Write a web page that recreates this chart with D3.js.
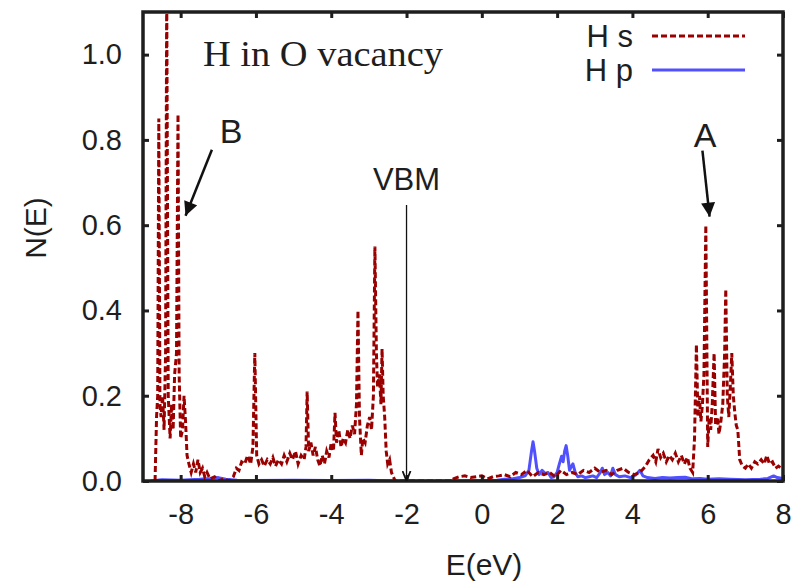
<!DOCTYPE html>
<html><head><meta charset="utf-8">
<script src="https://cdn.jsdelivr.net/npm/d3@7"></script>
<style>body{margin:0;background:#fff}svg{display:block}</style>
</head><body>
<script>
// ---- data ----
const hsE = [-8.68,-8.64,-8.61,-8.58,-8.55,-8.52,-8.48,-8.44,-8.40,-8.37,-8.33,-8.28,-8.24,-8.20,-8.16,-8.11,-8.07,-8.04,-8.00,-7.95,-7.91,-7.87,-7.83,-7.78,-7.72,-7.66,-7.60,-7.54,-7.48,-7.42,-7.36,-7.30,-7.22,-7.10,-7.00,-6.85,-6.70,-6.60,-6.52,-6.45,-6.38,-6.30,-6.22,-6.14,-6.08,-6.03,-5.98,-5.92,-5.85,-5.78,-5.70,-5.62,-5.55,-5.48,-5.40,-5.32,-5.25,-5.18,-5.10,-5.03,-4.95,-4.88,-4.80,-4.72,-4.67,-4.64,-4.60,-4.54,-4.48,-4.42,-4.36,-4.30,-4.24,-4.18,-4.12,-4.06,-4.00,-3.94,-3.90,-3.86,-3.80,-3.74,-3.68,-3.62,-3.56,-3.50,-3.44,-3.38,-3.33,-3.29,-3.25,-3.20,-3.16,-3.10,-3.04,-2.98,-2.93,-2.88,-2.84,-2.80,-2.77,-2.72,-2.68,-2.65,-2.62,-2.58,-2.54,-2.50,-2.45,-2.40,-2.35,-2.30,-0.80,-0.75,-0.60,-0.45,-0.30,-0.15,0.00,0.15,0.30,0.45,0.60,0.75,0.90,1.05,1.20,1.35,1.50,1.65,1.80,1.95,2.10,2.25,2.40,2.55,2.70,2.85,3.00,3.15,3.30,3.45,3.60,3.75,3.90,4.05,4.20,4.35,4.45,4.55,4.62,4.68,4.75,4.82,4.90,4.98,5.06,5.14,5.22,5.30,5.38,5.46,5.53,5.60,5.65,5.70,5.74,5.78,5.82,5.86,5.90,5.95,6.00,6.04,6.08,6.12,6.17,6.21,6.26,6.30,6.35,6.40,6.45,6.48,6.52,6.56,6.60,6.64,6.68,6.72,6.76,6.80,6.85,6.92,7.00,7.08,7.16,7.25,7.33,7.42,7.50,7.57,7.64,7.72,7.80,7.88,7.95,8.00];
const hsN = [0.00,0.15,0.20,0.85,0.18,0.15,0.20,0.12,0.30,1.15,0.20,0.10,0.18,0.12,0.25,0.30,0.86,0.25,0.10,0.12,0.20,0.14,0.06,0.04,0.02,0.04,0.02,0.05,0.02,0.03,0.01,0.02,0.005,0.01,0.00,0.005,0.00,0.01,0.03,0.025,0.045,0.04,0.06,0.04,0.08,0.30,0.06,0.04,0.05,0.035,0.05,0.04,0.055,0.035,0.05,0.04,0.06,0.045,0.065,0.05,0.07,0.04,0.06,0.05,0.08,0.21,0.07,0.09,0.06,0.08,0.05,0.035,0.06,0.04,0.07,0.055,0.09,0.07,0.16,0.09,0.12,0.08,0.10,0.09,0.12,0.10,0.13,0.11,0.18,0.40,0.15,0.06,0.10,0.09,0.13,0.15,0.12,0.20,0.55,0.30,0.22,0.25,0.18,0.31,0.20,0.15,0.07,0.04,0.05,0.02,0.01,0.00,0.00,0.005,0.01,0.012,0.008,0.01,0.012,0.005,0.01,0.012,0.015,0.01,0.02,0.015,0.025,0.01,0.02,0.015,0.02,0.01,0.025,0.015,0.02,0.015,0.025,0.02,0.03,0.02,0.025,0.015,0.025,0.03,0.02,0.015,0.02,0.035,0.05,0.06,0.045,0.075,0.055,0.065,0.045,0.06,0.05,0.065,0.045,0.06,0.04,0.055,0.03,0.02,0.10,0.32,0.15,0.20,0.14,0.18,0.25,0.60,0.08,0.15,0.12,0.18,0.30,0.13,0.15,0.11,0.14,0.18,0.30,0.45,0.20,0.15,0.22,0.30,0.20,0.16,0.13,0.12,0.05,0.035,0.03,0.04,0.03,0.045,0.04,0.05,0.04,0.06,0.04,0.045,0.03,0.035,0.03,0.03];
const hpE = [-8.80,-8.50,-8.00,-7.50,-7.20,-7.00,-6.80,-6.50,-6.00,-5.00,-4.00,-3.00,-2.30,-0.80,0.40,0.60,0.80,1.00,1.15,1.25,1.32,1.36,1.40,1.46,1.52,1.60,1.68,1.76,1.84,1.92,2.00,2.06,2.12,2.16,2.20,2.24,2.28,2.33,2.38,2.42,2.48,2.55,2.65,2.75,2.85,2.95,3.05,3.15,3.20,3.26,3.35,3.42,3.48,3.55,3.65,3.80,3.95,4.10,4.20,4.28,4.40,4.60,4.80,5.00,5.20,5.40,5.60,5.80,6.00,6.30,6.60,7.00,7.40,7.60,7.75,7.85,8.00];
const hpN = [0.000,0.003,0.002,0.004,0.006,0.008,0.004,0.002,0.001,0.002,0.001,0.002,0.000,0.000,0.002,0.004,0.005,0.008,0.012,0.025,0.070,0.092,0.070,0.030,0.015,0.025,0.018,0.020,0.008,0.010,0.020,0.040,0.058,0.045,0.070,0.083,0.060,0.025,0.035,0.040,0.020,0.010,0.012,0.008,0.010,0.012,0.008,0.020,0.030,0.015,0.020,0.012,0.030,0.015,0.010,0.012,0.008,0.015,0.025,0.012,0.008,0.006,0.008,0.007,0.008,0.009,0.005,0.006,0.004,0.005,0.004,0.003,0.004,0.006,0.012,0.008,0.006];
const xTicks = [-8,-6,-4,-2,0,2,4,6,8];
const yTicks = [0.0,0.2,0.4,0.6,0.8,1.0];
const legendLabels = ["H s","H p"];

// ---- layout ----
const W = 798, H = 582;
const L = 143, R = 783, T = 12, B = 481;
const svg = d3.select("body").append("svg").attr("width", W).attr("height", H);
const x = d3.scaleLinear().domain([-9, 8]).range([L, R]);
const y = d3.scaleLinear().domain([0, 1.1]).range([B, T]);
const sans = "'Liberation Sans', Arial, sans-serif";
const serif = "'Liberation Serif', 'Times New Roman', serif";
const ink = "#1e1e1e";

svg.append("defs").append("clipPath").attr("id","clip")
  .append("rect").attr("x", L).attr("y", T).attr("width", R-L).attr("height", B-T);

const line = d3.line().x(d => x(d[0])).y(d => y(d[1]));
const g = svg.append("g").attr("clip-path","url(#clip)");
g.append("path").datum(hpE.map((e,i)=>[e,hpN[i]]))
  .attr("d", line).attr("fill","none").attr("stroke","#5050ff").attr("stroke-width",3).attr("stroke-linejoin","round");
g.append("path").datum(hsE.map((e,i)=>[e,hsN[i]]))
  .attr("d", line).attr("fill","none").attr("stroke","#9a0000").attr("stroke-width",3)
  .attr("stroke-dasharray","6,3");

// axes (ticks inside, on all sides)
const tk = 6;
const fmtX = d => String(d);
const fmtY = d => d.toFixed(1);
const axB = svg.append("g").attr("transform",`translate(0,${B})`).call(d3.axisBottom(x).tickValues(xTicks).tickSize(-tk).tickPadding(22).tickFormat(fmtX));
const axT = svg.append("g").attr("transform",`translate(0,${T})`).call(d3.axisTop(x).tickValues(xTicks).tickSize(-tk).tickFormat(""));
const axL = svg.append("g").attr("transform",`translate(${L},0)`).call(d3.axisLeft(y).tickValues(yTicks).tickSize(-tk).tickPadding(21).tickFormat(fmtY));
const axR = svg.append("g").attr("transform",`translate(${R},0)`).call(d3.axisRight(y).tickValues(yTicks).tickSize(-tk).tickFormat(""));
[axB,axT,axL,axR].forEach(a => {
  a.select(".domain").remove();
  a.selectAll(".tick line").attr("stroke",ink).attr("stroke-width",3);
  a.selectAll("text").attr("font-family",sans).attr("font-size",29).attr("fill",ink);
});
svg.append("rect").attr("x",L).attr("y",T).attr("width",R-L).attr("height",B-T)
  .attr("fill","none").attr("stroke",ink).attr("stroke-width",3.5);

// axis labels
svg.append("text").attr("x",484).attr("y",575).attr("text-anchor","middle")
  .attr("font-family",sans).attr("font-size",30).attr("fill",ink).text("E(eV)");
svg.append("text").attr("transform","translate(46,228) rotate(-90)").attr("text-anchor","middle")
  .attr("font-family",sans).attr("font-size",30).attr("fill",ink).text("N(E)");

// title
svg.append("text").attr("x",203).attr("y",66).attr("font-family",serif).attr("font-size",35)
  .attr("textLength",240).attr("lengthAdjust","spacingAndGlyphs")
  .attr("fill",ink).text("H in O vacancy");

// legend
const legY = [36, 70];
legendLabels.forEach((lab,i) => {
  svg.append("text").attr("x",633).attr("y",legY[i]+11).attr("text-anchor","end")
    .attr("font-family",sans).attr("font-size",31).attr("fill",ink).text(lab);
  const ln = svg.append("line").attr("x1",652).attr("x2",745).attr("y1",legY[i]).attr("y2",legY[i])
    .attr("stroke-width", 3).attr("stroke", i===0?"#9a0000":"#5050ff");
  if (i===0) ln.attr("stroke-dasharray","6,3");
});

// annotations
const defs = svg.select("defs");
defs.append("marker").attr("id","ahBig").attr("viewBox","0 0 10 10").attr("refX",10).attr("refY",5)
  .attr("markerWidth",15).attr("markerHeight",14).attr("markerUnits","userSpaceOnUse")
  .attr("orient","auto").append("path").attr("d","M0,0 L10,5 L0,10 z").attr("fill","#111");
defs.append("marker").attr("id","ahOpen").attr("viewBox","0 0 10 10").attr("refX",10).attr("refY",5)
  .attr("markerWidth",10).attr("markerHeight",10).attr("markerUnits","userSpaceOnUse")
  .attr("orient","auto").append("path").attr("d","M0,1 L10,5 L0,9").attr("fill","none").attr("stroke","#111").attr("stroke-width",1.8);

svg.append("text").attr("x",231).attr("y",143).attr("text-anchor","middle").attr("font-family",sans)
  .attr("font-size",34).attr("fill",ink).text("B");
svg.append("line").attr("x1",x(-7.17)).attr("y1",y(0.777)).attr("x2",x(-7.87)).attr("y2",y(0.622))
  .attr("stroke","#111").attr("stroke-width",2.5).attr("marker-end","url(#ahBig)");
svg.append("text").attr("x",705).attr("y",147).attr("text-anchor","middle").attr("font-family",sans)
  .attr("font-size",34).attr("fill",ink).text("A");
svg.append("line").attr("x1",x(5.86)).attr("y1",y(0.775)).attr("x2",x(6.05)).attr("y2",y(0.62))
  .attr("stroke","#111").attr("stroke-width",2.5).attr("marker-end","url(#ahBig)");
svg.append("text").attr("x",x(-2.0)).attr("y",190).attr("text-anchor","middle").attr("font-family",sans)
  .attr("font-size",31).attr("fill",ink).text("VBM");
svg.append("line").attr("x1",x(-2.0)).attr("y1",205).attr("x2",x(-2.0)).attr("y2",y(0))
  .attr("stroke","#111").attr("stroke-width",1.3).attr("marker-end","url(#ahOpen)");
</script>
</body></html>
